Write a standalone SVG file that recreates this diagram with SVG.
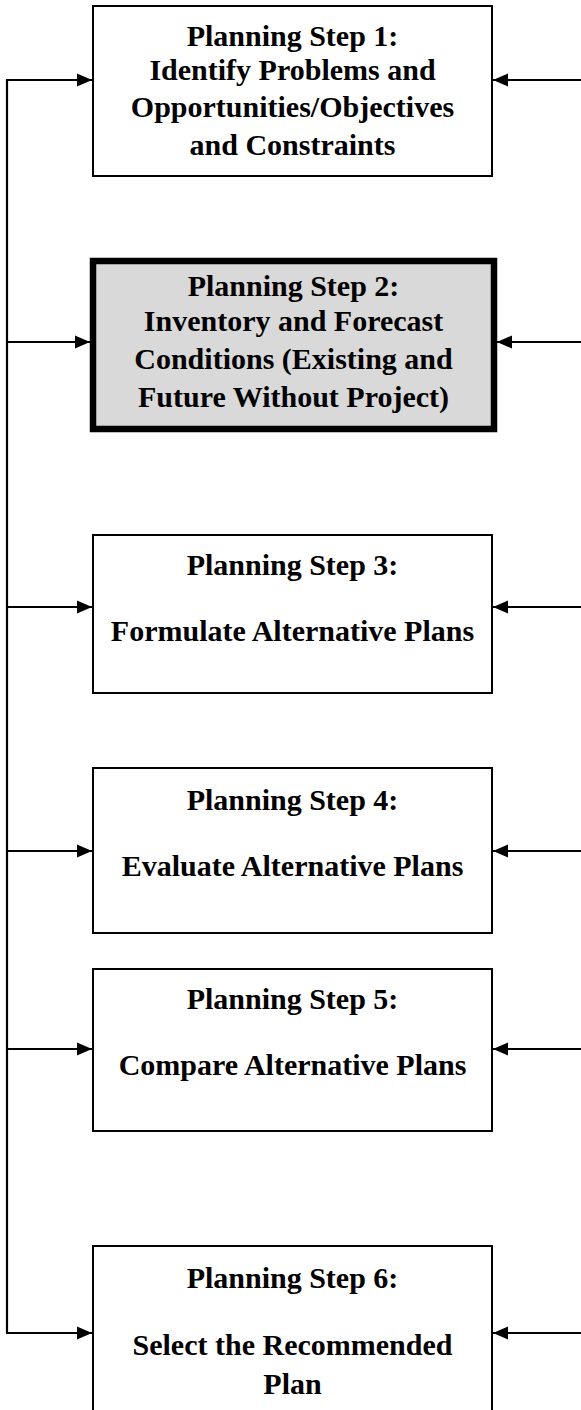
<svg xmlns="http://www.w3.org/2000/svg" width="581" height="1410" viewBox="0 0 581 1410">
<style>
.box{fill:#ffffff;stroke:#000000;stroke-width:2}
.box2{fill:#d9d9d9;stroke:#000000;stroke-width:6.5}
.t{font-family:"Liberation Serif","Times New Roman",serif;font-weight:bold;font-size:30px;fill:#000000;text-anchor:middle}
.c{fill:none;stroke:#000000;stroke-width:2.2}
</style>
<defs>
<marker id="ah" markerUnits="userSpaceOnUse" markerWidth="16" markerHeight="14" refX="15" refY="7" orient="auto">
<path d="M0,0.5 L15,7 L0,13.5 z" fill="#000000"/>
</marker>
</defs>
<rect width="581" height="1410" fill="#ffffff"/>
<g id="connectors">
<path class="c" d="M7,80 L7,1333"/>
<line class="c" x1="6" y1="80" x2="92" y2="80" marker-end="url(#ah)"/>
<line class="c" x1="7" y1="342" x2="90" y2="342" marker-end="url(#ah)"/>
<line class="c" x1="7" y1="607" x2="92" y2="607" marker-end="url(#ah)"/>
<line class="c" x1="7" y1="851" x2="92" y2="851" marker-end="url(#ah)"/>
<line class="c" x1="7" y1="1049" x2="92" y2="1049" marker-end="url(#ah)"/>
<line class="c" x1="6" y1="1333" x2="92" y2="1333" marker-end="url(#ah)"/>
<line class="c" x1="581" y1="80" x2="493" y2="80" marker-end="url(#ah)"/>
<line class="c" x1="581" y1="342" x2="497" y2="342" marker-end="url(#ah)"/>
<line class="c" x1="581" y1="607" x2="493" y2="607" marker-end="url(#ah)"/>
<line class="c" x1="581" y1="851" x2="493" y2="851" marker-end="url(#ah)"/>
<line class="c" x1="581" y1="1049" x2="493" y2="1049" marker-end="url(#ah)"/>
<line class="c" x1="581" y1="1333" x2="493" y2="1333" marker-end="url(#ah)"/>
</g>
<g id="step1">
<rect class="box" x="93" y="6" width="399" height="170"/>
<text class="t" x="292.5" y="46">Planning Step 1:</text>
<text class="t" x="292.5" y="80">Identify Problems and</text>
<text class="t" x="292.5" y="117">Opportunities/Objectives</text>
<text class="t" x="292.5" y="155">and Constraints</text>
</g>
<g id="step2">
<rect class="box2" x="93" y="261" width="401" height="168"/>
<text class="t" x="293.5" y="296">Planning Step 2:</text>
<text class="t" x="293.5" y="331">Inventory and Forecast</text>
<text class="t" x="293.5" y="369">Conditions (Existing and</text>
<text class="t" x="293.5" y="407">Future Without Project)</text>
</g>
<g id="step3">
<rect class="box" x="93" y="535" width="399" height="158"/>
<text class="t" x="292.5" y="575">Planning Step 3:</text>
<text class="t" x="292.5" y="641">Formulate Alternative Plans</text>
</g>
<g id="step4">
<rect class="box" x="93" y="768" width="399" height="165"/>
<text class="t" x="292.5" y="810">Planning Step 4:</text>
<text class="t" x="292.5" y="876">Evaluate Alternative Plans</text>
</g>
<g id="step5">
<rect class="box" x="93" y="969" width="399" height="162"/>
<text class="t" x="292.5" y="1009">Planning Step 5:</text>
<text class="t" x="292.5" y="1075">Compare Alternative Plans</text>
</g>
<g id="step6">
<rect class="box" x="93" y="1246" width="399" height="180"/>
<text class="t" x="292.5" y="1288">Planning Step 6:</text>
<text class="t" x="292.5" y="1355">Select the Recommended</text>
<text class="t" x="292.5" y="1394">Plan</text>
</g>
</svg>
